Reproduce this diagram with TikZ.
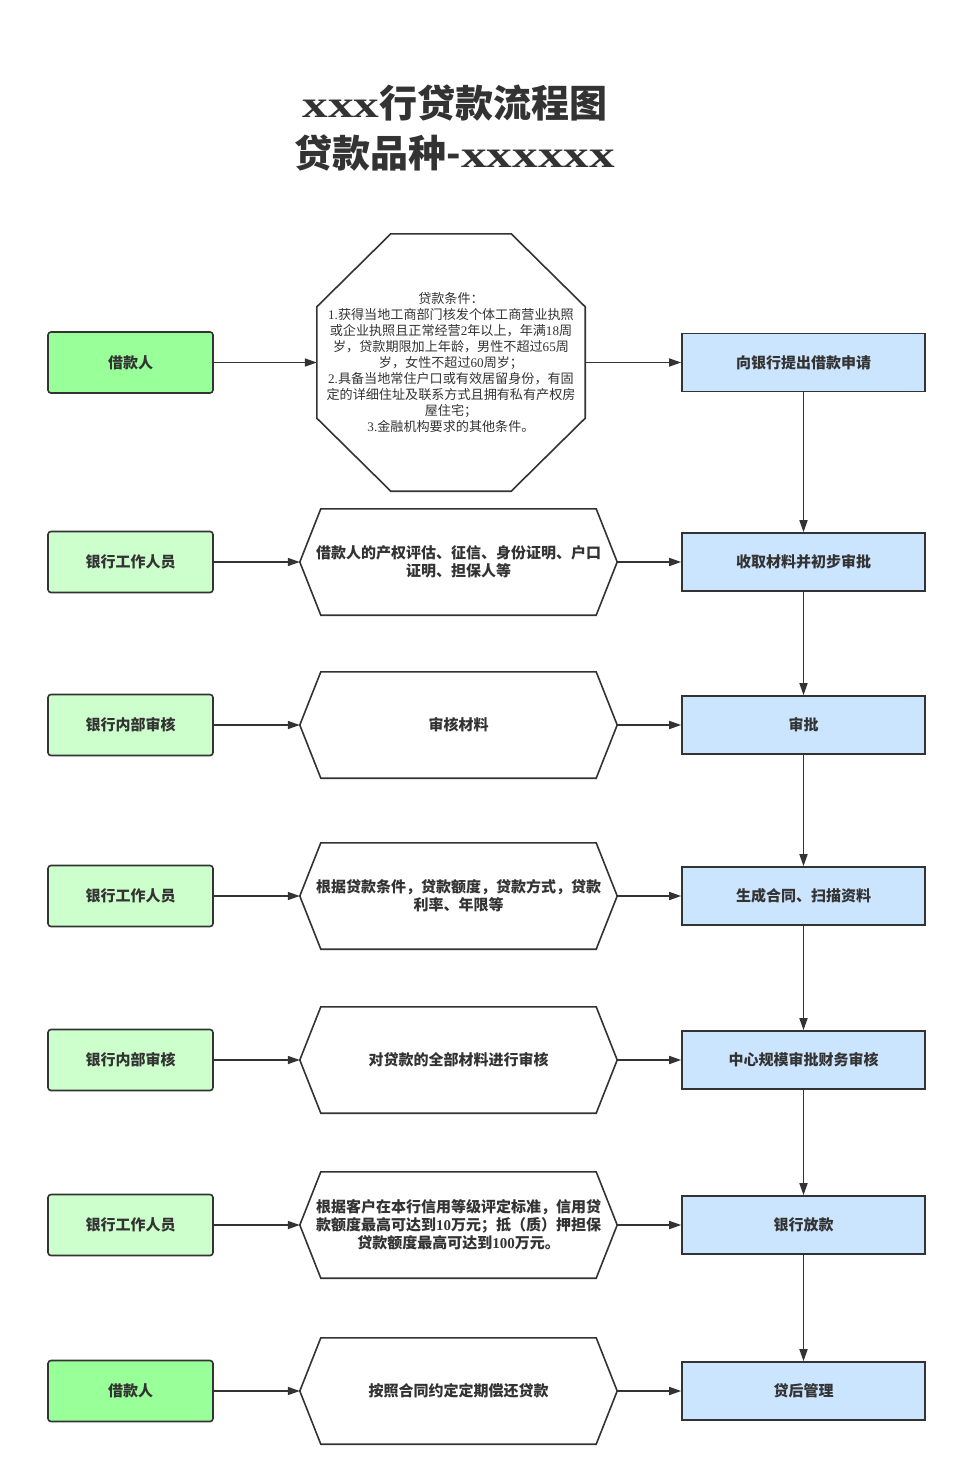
\documentclass[tikz,border=0pt]{standalone}
\usepackage{fontspec}
\setmainfont{Liberation Serif}
\newfontfamily\cjk{Noto Sans CJK SC}
\newfontfamily\titlelatin[FakeStretch=1.35]{Liberation Serif}
\usetikzlibrary{arrows.meta,calc}
\definecolor{ink}{HTML}{333333}
\definecolor{greenA}{HTML}{99FF99}
\definecolor{greenB}{HTML}{CCFFCC}
\definecolor{blueA}{HTML}{CCE5FF}
\tikzset{
  lbox/.style={draw=ink, line width=1.6pt, rounded corners=3pt, minimum width=165pt, minimum height=61pt, inner sep=0pt, text=ink, font=\cjk\bfseries\fontsize{15}{18}\selectfont},
  rbox/.style={draw=ink, line width=1.6pt, fill=blueA, minimum width=243pt, minimum height=58pt, inner sep=0pt, text=ink, font=\cjk\bfseries\fontsize{15}{18}\selectfont},
  hexbox/.style={minimum width=317pt, minimum height=106pt, inner sep=0pt, text width=310pt, align=center, text=ink, font=\cjk\bfseries\fontsize{15}{18}\selectfont},
  octbox/.style={minimum width=268pt, minimum height=257pt, inner sep=0pt, text width=262pt, align=center, text=ink, font=\cjk\fontsize{13.1}{16}\selectfont},
  outline/.style={draw=ink, line width=1.6pt, line join=miter},
  conn/.style={draw=ink, line width=1.6pt, -{Triangle[length=12pt,width=8pt]}},
}
\newcommand\hexshape[1]{%
  \draw[outline] (#1.west) -- ($(#1.north west)+(21,0)$) -- ($(#1.north east)+(-21,0)$) -- (#1.east) -- ($(#1.south east)+(-21,0)$) -- ($(#1.south west)+(21,0)$) -- cycle;}
\begin{document}
\begin{tikzpicture}[x=1pt,y=-1pt]
\useasboundingbox[fill=white] (0,0) rectangle (957,1475);

% title
\node[text=ink, align=center, font=\cjk\bfseries\fontsize{38}{50}\selectfont] (title) at (455,128)
  {{\titlelatin\bfseries xxx}行贷款流程图\\贷款品种-{\titlelatin\bfseries xxxxxx}};

% left column
\node[lbox, fill=greenA] (l1) at (130.5,362.5) {借款人};
\node[lbox, fill=greenB] (l2) at (130.5,562) {银行工作人员};
\node[lbox, fill=greenB] (l3) at (130.5,725) {银行内部审核};
\node[lbox, fill=greenB] (l4) at (130.5,896) {银行工作人员};
\node[lbox, fill=greenB] (l5) at (130.5,1060) {银行内部审核};
\node[lbox, fill=greenB] (l6) at (130.5,1225) {银行工作人员};
\node[lbox, fill=greenA] (l7) at (130.5,1391) {借款人};

% right column
\node[rbox] (r1) at (803.5,362.5) {向银行提出借款申请};
\node[rbox] (r2) at (803.5,562) {收取材料并初步审批};
\node[rbox] (r3) at (803.5,725) {审批};
\node[rbox] (r4) at (803.5,896) {生成合同、扫描资料};
\node[rbox] (r5) at (803.5,1060) {中心规模审批财务审核};
\node[rbox] (r6) at (803.5,1225) {银行放款};
\node[rbox] (r7) at (803.5,1391) {贷后管理};

% octagon
\node[octbox] (m1) at (451,362.5) {贷款条件：\\
\textrm{1.}获得当地工商部门核发个体工商营业执照\\
或企业执照且正常经营\textrm{2}年以上，年满\textrm{18}周\\
岁，贷款期限加上年龄，男性不超过\textrm{65}周\\
岁，女性不超过\textrm{60}周岁；\\
\textrm{2.}具备当地常住户口或有效居留身份，有固\\
定的详细住址及联系方式且拥有私有产权房\\
屋住宅；\\
\textrm{3.}金融机构要求的其他条件。};
\draw[outline] ($(m1.north west)+(74,0)$) -- ($(m1.north east)+(-74,0)$) -- ($(m1.north east)+(0,73)$) -- ($(m1.south east)+(0,-73)$) -- ($(m1.south east)+(-74,0)$) -- ($(m1.south west)+(74,0)$) -- ($(m1.south west)+(0,-73)$) -- ($(m1.north west)+(0,73)$) -- cycle;

% hexagons
\node[hexbox] (m2) at (458.5,562) {借款人的产权评估、征信、身份证明、户口\\证明、担保人等};
\hexshape{m2}
\node[hexbox] (m3) at (458.5,725) {审核材料};
\hexshape{m3}
\node[hexbox] (m4) at (458.5,896) {根据贷款条件，贷款额度，贷款方式，贷款\\利率、年限等};
\hexshape{m4}
\node[hexbox] (m5) at (458.5,1060) {对贷款的全部材料进行审核};
\hexshape{m5}
\node[hexbox] (m6) at (458.5,1225) {根据客户在本行信用等级评定标准，信用贷\\款额度最高可达到\textrm{10}万元；抵（质）押担保\\贷款额度最高可达到\textrm{100}万元。};
\hexshape{m6}
\node[hexbox] (m7) at (458.5,1391) {按照合同约定定期偿还贷款};
\hexshape{m7}

% connectors
\foreach \i in {1,...,7} {
  \draw[conn] (l\i.east) -- (m\i.west);
  \draw[conn] (m\i.east) -- (r\i.west);
}
\foreach \i/\j in {1/2,2/3,3/4,4/5,5/6,6/7} {
  \draw[conn] (r\i.south) -- (r\j.north);
}
\end{tikzpicture}
\end{document}
